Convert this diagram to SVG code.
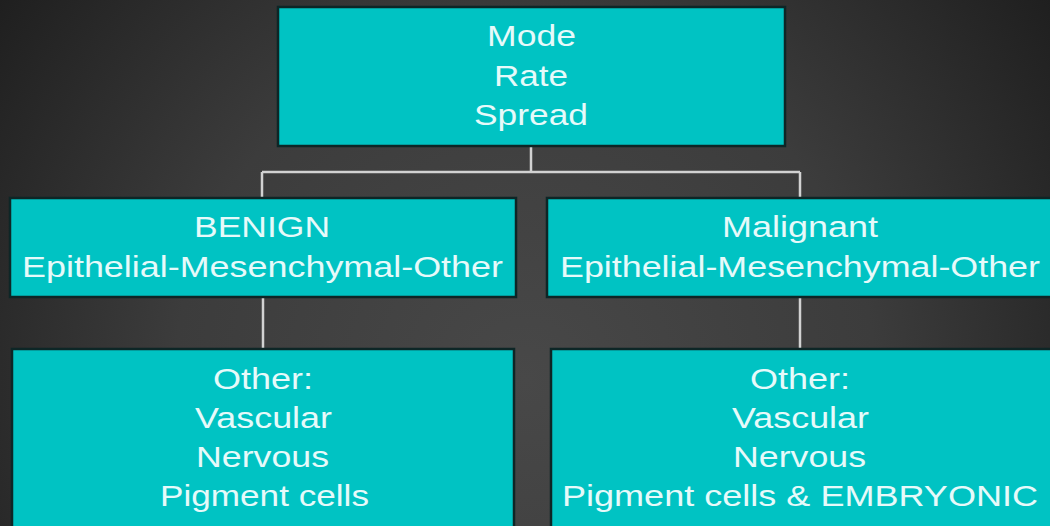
<svg xmlns="http://www.w3.org/2000/svg" width="1050" height="526" viewBox="0 0 1050 526">
<defs>
<radialGradient id="bg" cx="525" cy="380" r="700" gradientUnits="userSpaceOnUse">
<stop offset="0" stop-color="#484848"/>
<stop offset="0.5" stop-color="#3c3c3c"/>
<stop offset="1" stop-color="#1a1a1a"/>
</radialGradient>
<style>
.box{fill:#00c3c3;stroke:#0d2626;stroke-width:2.5}
.t{font-family:"Liberation Sans",Arial,sans-serif;font-size:29px;fill:#e6fafa;text-anchor:middle}
.c{stroke:#d2d2d2;stroke-width:2.5;fill:none}
</style>
</defs>
<rect width="1050" height="526" fill="url(#bg)"/>
<g id="connectors">
<path class="c" d="M531 146V172M262 172H800M262 172V198M800 172V198"/>
<path class="c" d="M263 298V349"/>
<path class="c" d="M800 298V349"/>
</g>
<g id="top">
<rect class="box" x="278" y="7" width="507" height="139"/>
<text class="t" x="531.5" y="46" textLength="89" lengthAdjust="spacingAndGlyphs">Mode</text>
<text class="t" x="531" y="86" textLength="74" lengthAdjust="spacingAndGlyphs">Rate</text>
<text class="t" x="531" y="125" textLength="114" lengthAdjust="spacingAndGlyphs">Spread</text>
</g>
<g id="benign">
<rect class="box" x="10" y="198" width="506" height="99"/>
<text class="t" x="262" y="237" textLength="136" lengthAdjust="spacingAndGlyphs">BENIGN</text>
<text class="t" x="262.5" y="277" textLength="481" lengthAdjust="spacingAndGlyphs">Epithelial-Mesenchymal-Other</text>
</g>
<g id="malignant">
<rect class="box" x="547" y="198" width="510" height="99"/>
<text class="t" x="800" y="237" textLength="156" lengthAdjust="spacingAndGlyphs">Malignant</text>
<text class="t" x="800" y="277" textLength="480" lengthAdjust="spacingAndGlyphs">Epithelial-Mesenchymal-Other</text>
</g>
<g id="benign-other">
<rect class="box" x="12" y="349" width="502" height="190"/>
<text class="t" x="263" y="389" textLength="100" lengthAdjust="spacingAndGlyphs">Other:</text>
<text class="t" x="263.5" y="428" textLength="137" lengthAdjust="spacingAndGlyphs">Vascular</text>
<text class="t" x="262.5" y="467" textLength="133" lengthAdjust="spacingAndGlyphs">Nervous</text>
<text class="t" x="264.5" y="506" textLength="209" lengthAdjust="spacingAndGlyphs">Pigment cells</text>
</g>
<g id="malignant-other">
<rect class="box" x="551" y="349" width="510" height="190"/>
<text class="t" x="800" y="389" textLength="100" lengthAdjust="spacingAndGlyphs">Other:</text>
<text class="t" x="800.5" y="428" textLength="137" lengthAdjust="spacingAndGlyphs">Vascular</text>
<text class="t" x="799.5" y="467" textLength="133" lengthAdjust="spacingAndGlyphs">Nervous</text>
<text class="t" x="800" y="506" textLength="476" lengthAdjust="spacingAndGlyphs">Pigment cells &amp; EMBRYONIC</text>
</g>
</svg>
